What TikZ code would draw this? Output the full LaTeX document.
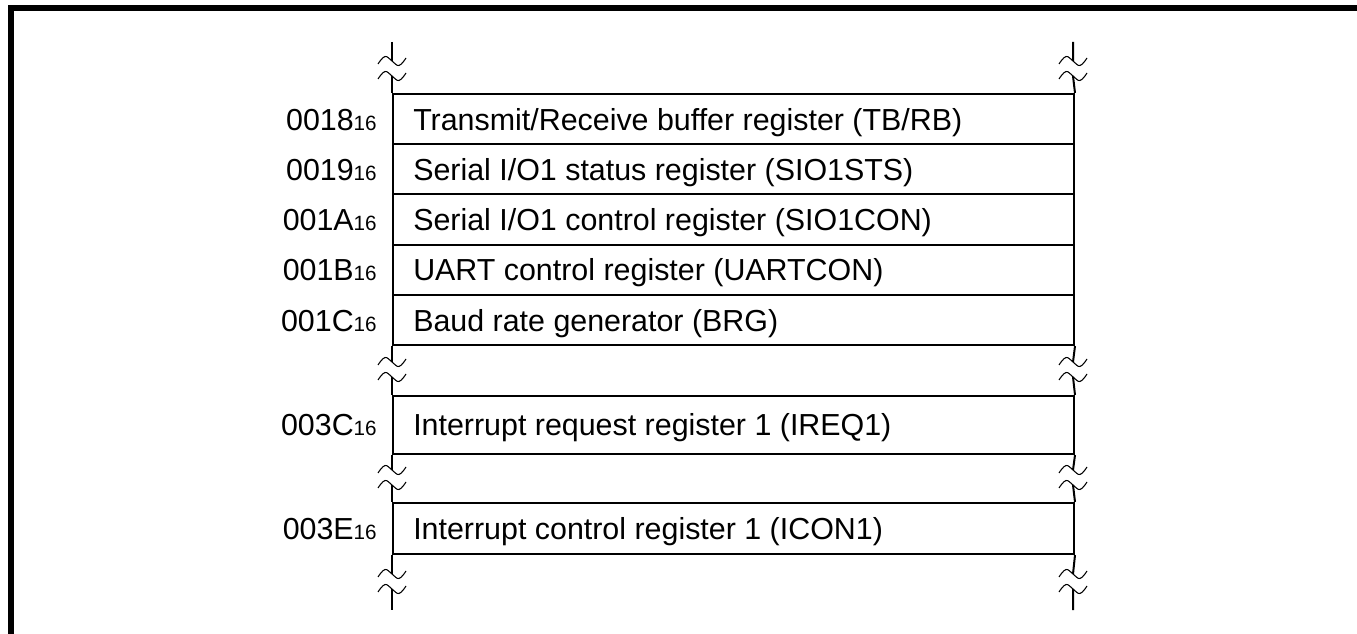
\documentclass[tikz,border=0pt]{standalone}
\usepackage{fontspec}
\setmainfont{Liberation Sans}
\newcommand\regfont{\fontsize{22.8}{27}\selectfont}
\newcommand\subfont{\fontsize{15.5}{18}\selectfont}
\newcommand\addrlbl[1]{#1{\subfont 16}}
\newcommand\wv[1]{\draw[wave,shift={(#1)}] plot[smooth,tension=0.7] coordinates {(-14,3) (-7,-4.5) (0,0) (7,4.5) (14,-3)};}
\begin{document}
\begin{tikzpicture}[x=0.75pt,y=-0.75pt,
  frame/.style={line width=4.5pt,line join=miter},
  vline/.style={line width=1.5pt},
  wave/.style={line width=0.8pt},
  reg/.style={draw,line width=1.5pt,minimum width=510.75pt,inner sep=0pt,anchor=north west},
  regtext/.style={anchor=base west,inner sep=0pt,font=\regfont},
  addrtext/.style={anchor=base east,inner sep=0pt,font=\regfont}]
\useasboundingbox (0,0) rectangle (1357,634);
\draw[frame] (11,640) -- (11,8) -- (1360,8);

% register rows
\node[reg,minimum height=37.65pt] (r18) at (392,93) {};
\node[reg,minimum height=37.65pt] (r19) at (392,143.2) {};
\node[reg,minimum height=37.65pt] (r1A) at (392,193.4) {};
\node[reg,minimum height=37.65pt] (r1B) at (392,243.6) {};
\node[reg,minimum height=37.65pt] (r1C) at (392,293.8) {};
\node[reg,minimum height=43.5pt] (r3C) at (392,395) {};
\node[reg,minimum height=38.25pt] (r3E) at (392,502) {};

% texts
\node[regtext] (t18) at (413,130.5) {Transmit/Receive buffer register (TB/RB)};
\node[regtext] (t19) at (413,180.5) {Serial I/O1 status register (SIO1STS)};
\node[regtext] (t1A) at (413,231) {Serial I/O1 control register (SIO1CON)};
\node[regtext] (t1B) at (413,281) {UART control register (UARTCON)};
\node[regtext] (t1C) at (413,331.5) {Baud rate generator (BRG)};
\node[regtext] (t3C) at (413,436) {Interrupt request register 1 (IREQ1)};
\node[regtext] (t3E) at (413,539) {Interrupt control register 1 (ICON1)};

\node[addrtext] (a18) at (377,130.5) {\addrlbl{0018}};
\node[addrtext] (a19) at (377,180.5) {\addrlbl{0019}};
\node[addrtext] (a1A) at (377,231) {\addrlbl{001A}};
\node[addrtext] (a1B) at (377,281) {\addrlbl{001B}};
\node[addrtext] (a1C) at (377,331.5) {\addrlbl{001C}};
\node[addrtext] (a3C) at (377,436) {\addrlbl{003C}};
\node[addrtext] (a3E) at (377,539) {\addrlbl{003E}};

% break coordinates
\coordinate (tL0) at (392,42);   \coordinate (tR0) at (1073,42);
\coordinate (tL1) at (392,61);   \coordinate (tR1) at (1073,61);
\coordinate (tL2) at (392,76);   \coordinate (tR2) at (1073,76);
\coordinate (aL1) at (392,362);  \coordinate (aR1) at (1073,362);
\coordinate (aL2) at (392,377);  \coordinate (aR2) at (1073,377);
\coordinate (bL1) at (392,470);  \coordinate (bR1) at (1073,470);
\coordinate (bL2) at (392,485);  \coordinate (bR2) at (1073,485);
\coordinate (cL1) at (392,574);  \coordinate (cR1) at (1073,574);
\coordinate (cL2) at (392,589);  \coordinate (cR2) at (1073,589);
\coordinate (cL3) at (392,610);  \coordinate (cR3) at (1073,610);

% vertical lines
\draw[vline] (tL0) -- (tL1) (tL2) -- (r18.north west);
\draw[vline] (tR0) -- (tR1) (tR2) -- (r18.north east);
\draw[vline] (r1C.south west) -- (aL1) (aL2) -- (r3C.north west);
\draw[vline] (r1C.south east) -- (aR1) (aR2) -- (r3C.north east);
\draw[vline] (r3C.south west) -- (bL1) (bL2) -- (r3E.north west);
\draw[vline] (r3C.south east) -- (bR1) (bR2) -- (r3E.north east);
\draw[vline] (r3E.south west) -- (cL1) (cL2) -- (cL3);
\draw[vline] (r3E.south east) -- (cR1) (cR2) -- (cR3);

% break symbols
\wv{tL1}\wv{tL2}\wv{tR1}\wv{tR2}
\wv{aL1}\wv{aL2}\wv{aR1}\wv{aR2}
\wv{bL1}\wv{bL2}\wv{bR1}\wv{bR2}
\wv{cL1}\wv{cL2}\wv{cR1}\wv{cR2}
\end{tikzpicture}
\end{document}
